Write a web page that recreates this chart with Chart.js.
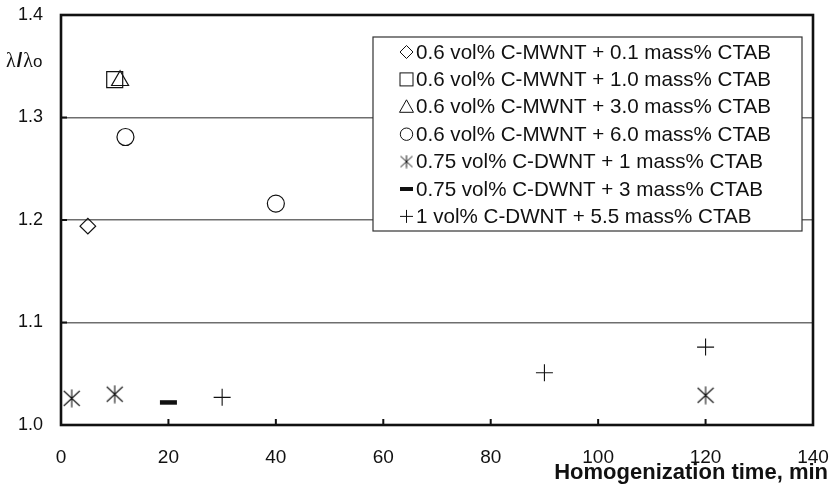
<!DOCTYPE html>
<html>
<head>
<meta charset="utf-8">
<script src="https://cdn.jsdelivr.net/npm/chart.js@4/dist/chart.umd.min.js"></script>
<style>
  html, body { margin: 0; padding: 0; background: #fff; }
  #wrap { width: 831px; height: 494px; }
</style>
</head>
<body>
<div id="wrap"><canvas id="myChart" width="831" height="494"></canvas></div>
<script>
// data
const seriesLabels = [
  "0.6 vol% C-MWNT + 0.1 mass% CTAB",
  "0.6 vol% C-MWNT + 1.0 mass% CTAB",
  "0.6 vol% C-MWNT + 3.0 mass% CTAB",
  "0.6 vol% C-MWNT + 6.0 mass% CTAB",
  "0.75 vol% C-DWNT + 1 mass% CTAB",
  "0.75 vol% C-DWNT + 3 mass% CTAB",
  "1 vol% C-DWNT + 5.5 mass% CTAB",
];
const mwnt01Time = [5];
const mwnt01Ratio = [1.194];
const mwnt10Time = [10];
const mwnt10Ratio = [1.337];
const mwnt30Time = [11];
const mwnt30Ratio = [1.336];
const mwnt60Time = [12, 40];
const mwnt60Ratio = [1.281, 1.216];
const dwnt1Time = [2, 10, 120];
const dwnt1Ratio = [1.026, 1.03, 1.029];
const dwnt3Time = [20];
const dwnt3Ratio = [1.022];
const dwnt55Time = [30, 90, 120];
const dwnt55Ratio = [1.027, 1.051, 1.076];

const xTicks = [0, 20, 40, 60, 80, 100, 120, 140];
const yTicks = [1.0, 1.1, 1.2, 1.3, 1.4];
const xTitle = "Homogenization time, min";

const toPoints = (xs, ys) => xs.map((x, i) => ({ x: x, y: ys[i] }));

const FONT = "'Liberation Sans', Arial, Helvetica, sans-serif";
const SERIF = "'Liberation Serif', 'DejaVu Serif', serif";
const INK = "#111";

//asterisk marker: X plus a vertical stroke
const makeAsterisk = (w, h, arm, lw) => {
  const c = document.createElement("canvas");
  c.width = w;
  c.height = h;
  const g = c.getContext("2d");
  g.strokeStyle = INK;
  g.lineWidth = lw;
  const cx = w / 2, cy = h / 2;
  g.beginPath();
  g.moveTo(cx - arm.x, cy - arm.y);
  g.lineTo(cx + arm.x, cy + arm.y);
  g.moveTo(cx + arm.x, cy - arm.y);
  g.lineTo(cx - arm.x, cy + arm.y);
  g.moveTo(cx, 0.5);
  g.lineTo(cx, h - 0.5);
  g.stroke();
  return c;
};
const asteriskBig = makeAsterisk(18, 19, { x: 8, y: 7.5 }, 1.1);
const asteriskSmall = makeAsterisk(14, 14, { x: 6, y: 5.5 }, 1);

const markerStyles = [
  { style: "rectRot", r: 7.8, lw: 1.2 },
  { style: "rect", r: 11.3, lw: 1.2 },
  { style: "triangle", r: 9.8, lw: 1.2 },
  { style: "circle", r: 8.5, lw: 1.2 },
  { style: asteriskBig, r: 9, lw: 1 },
  { style: "line", r: 8.5, lw: 4.5 },
  { style: "cross", r: 8.5, lw: 1.1 },
];

const seriesPoints = [
  toPoints(mwnt01Time, mwnt01Ratio),
  toPoints(mwnt10Time, mwnt10Ratio),
  toPoints(mwnt30Time, mwnt30Ratio),
  toPoints(mwnt60Time, mwnt60Ratio),
  toPoints(dwnt1Time, dwnt1Ratio),
  toPoints(dwnt3Time, dwnt3Ratio),
  toPoints(dwnt55Time, dwnt55Ratio),
];

const datasets = seriesPoints.map((pts, i) => ({
  label: seriesLabels[i],
  data: pts,
  showLine: false,
  pointStyle: markerStyles[i].style,
  pointRadius: markerStyles[i].r,
  pointHoverRadius: markerStyles[i].r,
  pointBorderWidth: markerStyles[i].lw,
  pointBorderColor: INK,
  pointBackgroundColor: "rgba(0,0,0,0)",
  borderColor: INK,
  backgroundColor: "rgba(0,0,0,0)",
  clip: false,
}));

//small legend glyphs
const drawLegendMarker = (ctx, i, x, y) => {
  ctx.save();
  ctx.strokeStyle = INK;
  ctx.lineWidth = 1;
  ctx.beginPath();
  if (i === 0) {
    ctx.moveTo(x, y - 6.5);
    ctx.lineTo(x + 6.5, y);
    ctx.lineTo(x, y + 6.5);
    ctx.lineTo(x - 6.5, y);
    ctx.closePath();
    ctx.stroke();
  } else if (i === 1) {
    ctx.strokeRect(x - 6.5, y - 6.5, 13, 13);
  } else if (i === 2) {
    ctx.moveTo(x, y - 7);
    ctx.lineTo(x + 7, y + 5.5);
    ctx.lineTo(x - 7, y + 5.5);
    ctx.closePath();
    ctx.stroke();
  } else if (i === 3) {
    ctx.arc(x, y, 6.2, 0, Math.PI * 2);
    ctx.stroke();
  } else if (i === 4) {
    ctx.drawImage(asteriskSmall, x - 7, y - 7);
  } else if (i === 5) {
    ctx.fillStyle = INK;
    ctx.fillRect(x - 6.5, y - 2, 13, 4);
  } else {
    ctx.moveTo(x - 6.5, y);
    ctx.lineTo(x + 6.5, y);
    ctx.moveTo(x, y - 6.5);
    ctx.lineTo(x, y + 6.5);
    ctx.stroke();
  }
  ctx.restore();
};

const framePlugin = {
  id: "frame",
  beforeDatasetsDraw(chart) {
    const { ctx, chartArea: a, scales } = chart;
    ctx.save();
    //inward tick marks
    ctx.strokeStyle = INK;
    ctx.lineWidth = 2;
    ctx.beginPath();
    xTicks.slice(1, -1).forEach((v) => {
      const px = scales.x.getPixelForValue(v);
      ctx.moveTo(px, a.bottom);
      ctx.lineTo(px, a.bottom - 6);
    });
    yTicks.slice(1, -1).forEach((v) => {
      const py = scales.y.getPixelForValue(v);
      ctx.moveTo(a.left, py);
      ctx.lineTo(a.left + 6, py);
    });
    ctx.stroke();
    //plot box
    ctx.lineWidth = 2.6;
    ctx.strokeStyle = INK;
    ctx.strokeRect(a.left, a.top, a.right - a.left, a.bottom - a.top);
    ctx.restore();
  },
  afterDraw(chart) {
    const { ctx } = chart;
    ctx.save();
    //legend box
    const bx = 373, by = 37, bw = 429, bh = 194;
    ctx.fillStyle = "#fff";
    ctx.fillRect(bx, by, bw, bh);
    ctx.strokeStyle = "#333";
    ctx.lineWidth = 1.2;
    ctx.strokeRect(bx, by, bw, bh);
    ctx.fillStyle = INK;
    ctx.font = "20.6px " + FONT;
    ctx.textBaseline = "middle";
    ctx.textAlign = "left";
    seriesLabels.forEach((label, i) => {
      const y = 52 + i * 27.4;
      drawLegendMarker(ctx, i, 406.5, y);
      ctx.fillText(label, 416, y + 1);
    });

    //x axis title
    ctx.font = "bold 22px " + FONT;
    ctx.textAlign = "right";
    ctx.textBaseline = "alphabetic";
    ctx.fillText(xTitle, 828, 479);

    //y axis label  λ/λo
    ctx.textAlign = "left";
    let x = 6;
    const base = 67;
    ctx.font = "20px " + SERIF;
    ctx.fillText("λ", x, base);
    x += ctx.measureText("λ").width + 1;
    ctx.font = "bold 20px " + FONT;
    ctx.fillText("/", x, base);
    x += ctx.measureText("/").width + 1;
    ctx.font = "20px " + SERIF;
    ctx.fillText("λ", x, base);
    x += ctx.measureText("λ").width;
    ctx.font = "17px " + FONT;
    ctx.fillText("o", x, base);
    ctx.restore();
  },
};

const ctx = document.getElementById("myChart");
const myChart = new Chart(ctx, {
  type: "scatter",
  data: { datasets: datasets },
  options: {
    responsive: false,
    animation: false,
    events: [],
    layout: { padding: { left: 0, right: 18, top: 15, bottom: 0 } },
    plugins: {
      legend: { display: false },
      tooltip: { enabled: false },
    },
    scales: {
      x: {
        type: "linear",
        min: xTicks[0],
        max: xTicks[xTicks.length - 1],
        afterFit: (scale) => {
          scale.height = 69;
          scale.paddingLeft = 0;
          scale.paddingRight = 0;
        },
        afterBuildTicks: (scale) => {
          scale.ticks = xTicks.map((v) => ({ value: v }));
        },
        grid: { display: false, drawTicks: false },
        border: { display: false },
        ticks: {
          padding: 21,
          color: INK,
          font: { family: FONT, size: 19 },
          maxRotation: 0,
          callback: (v) => String(v),
        },
      },
      y: {
        type: "linear",
        min: yTicks[0],
        max: yTicks[yTicks.length - 1],
        afterFit: (scale) => {
          scale.width = 61;
          scale.paddingTop = 0;
          scale.paddingBottom = 0;
        },
        afterBuildTicks: (scale) => {
          scale.ticks = yTicks.map((v) => ({ value: v }));
        },
        grid: {
          drawTicks: false,
          color: (c) =>
            c.tick && (c.tick.value <= 1.0001 || c.tick.value >= 1.3999)
              ? "rgba(0,0,0,0)"
              : "#6e6e6e",
          lineWidth: 1.5,
        },
        border: { display: false },
        ticks: {
          padding: 18,
          color: INK,
          font: { family: FONT, size: 18 },
          callback: (v) => Number(v).toFixed(1),
        },
      },
    },
  },
  plugins: [framePlugin],
});
</script>
</body>
</html>
